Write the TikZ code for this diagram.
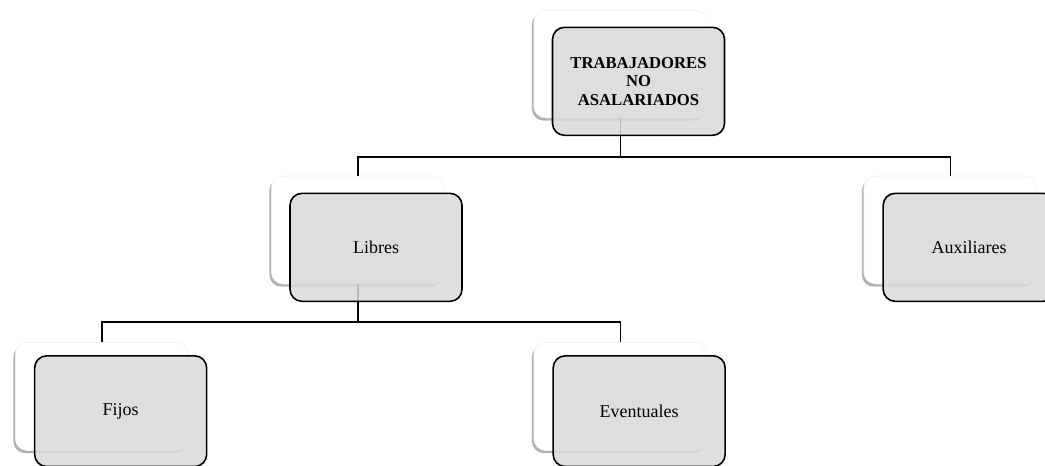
\documentclass[tikz,border=0pt]{standalone}
\usepackage{fontspec}
\setmainfont{Liberation Serif}
\usetikzlibrary{%
	shadows,%
	calc%
}
\definecolor{boxgray}{RGB}{217,217,217}
\tikzset{
	card/.style={draw=black!6,fill=white,rounded corners=9pt,minimum width=130pt,minimum height=81pt,
		drop shadow={shadow xshift=-1.5pt,shadow yshift=-2pt,opacity=0.3,fill=black}},
	box/.style={draw=black,line width=1.2pt,fill=boxgray,fill opacity=0.85,text opacity=1,
		rounded corners=9pt,minimum width=129pt,minimum height=81pt,align=center,font=\fontsize{13.5}{15}\selectfont},
	link/.style={line width=1.2pt}
}
\begin{document}
\begin{tikzpicture}[x=0.75pt,y=-0.75pt]
		\useasboundingbox (0,0) rectangle (1045,466);
		% Back cards
		\node[card] (top-card) at (620.5,64) {};
		\node[card] (libres-card) at (358,230) {};
		\node[card] (aux-card) at (950.5,230) {};
		\node[card] (fijos-card) at (102,396.5) {};
		\node[card] (event-card) at (620.5,396.5) {};
		
		% Connectors
		\draw[link] (top-card.south) -- ++(0,39) coordinate (top-bar) -| (libres-card.north);
		\draw[link] (top-bar) -| (aux-card.north);
		\draw[link] (libres-card.south) -- ++(0,38) coordinate (libres-bar) -| (fijos-card.north);
		\draw[link] (libres-bar) -| (event-card.north);
		
		% Front boxes
		\node[box,xshift=13.5pt,yshift=-13pt,font=\fontsize{12.5}{14}\selectfont\bfseries] (top) at (top-card.center) {TRABAJADORES\\NO\\ASALARIADOS};
		\node[box,xshift=13.5pt,yshift=-13pt] (libres) at (libres-card.center) {Libres};
		\node[box,xshift=14pt,yshift=-13pt] (aux) at (aux-card.center) {Auxiliares};
		\node[box,xshift=14pt,yshift=-11pt,minimum height=83pt] (fijos) at (fijos-card.center) {Fijos};
		\node[box,xshift=14pt,yshift=-11pt,minimum height=83pt] (event) at (event-card.center) {Eventuales};
	\end{tikzpicture}
\end{document}
